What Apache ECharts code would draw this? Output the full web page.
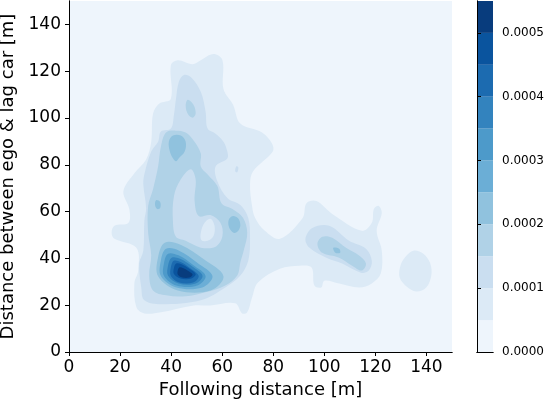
<!DOCTYPE html>
<html lang="en">
<head>
    <meta charset="UTF-8">
    <script src="https://cdn.jsdelivr.net/npm/echarts@6/dist/echarts.min.js"></script>
    <title>KDE following distance</title>
    <style>
        html, body { margin: 0; padding: 0; background: #fff; }
        #main { width: 546px; height: 402px; }
    </style>
</head>
<body>
<div id="main"></div>
<script type="text/javascript">
    // contour levels of the density and the colour of each band (Blues, 11 bands)
    var levelBounds = [0, 0.00005, 0.0001, 0.00015, 0.0002, 0.00025, 0.0003, 0.00035, 0.0004, 0.00045, 0.0005, 0.00055];
    var levelColors = ['#eef5fc', '#dceaf6', '#cadef0', '#b0d2e7', '#90c2de', '#6baed6',
                       '#4d9aca', '#3383be', '#1c6bb0', '#0a549e', '#083c7d'];
    var xTicks = [0, 20, 40, 60, 80, 100, 120, 140];
    var cbarTicks = [0, 0.0001, 0.0002, 0.0003, 0.0004, 0.0005];

    // contour outlines, [following distance, gap to lag car] in m
    var l1Main = [[56.6,127.3],[60.1,124.7],[60.5,112.4],[64.3,105.6],[67.1,97.6],[75.6,93.8],[79.5,89.1],[79.8,85.7],
        [72.1,77.2],[70.9,71.7],[71.7,62.4],[72.9,57.3],[76.7,51.8],[82.6,48.4],[91.5,57.3],[93.0,63.6],[96.9,64.5],
        [103.1,59.0],[114.7,51.8],[118.6,55.2],[119.4,61.1],[121.3,62.4],[122.5,59.4],[120.5,51.8],[122.5,43.3],
        [122.1,33.5],[118.6,29.3],[113.6,27.6],[105.8,29.3],[100.0,30.5],[98.8,27.6],[96.1,28.4],[95.0,36.1],
        [90.3,36.9],[82.6,35.6],[74.0,29.7],[71.7,23.3],[69.8,17.0],[67.8,16.5],[65.1,20.8],[55.4,19.9],[48.8,19.9],
        [36.0,17.0],[29.5,16.5],[26.4,19.1],[25.6,29.3],[27.1,34.8],[26.4,44.5],[17.8,48.4],[16.7,50.9],[17.8,53.9],
        [23.3,55.2],[23.6,61.1],[21.3,68.7],[25.6,76.4],[30.2,82.3],[32.2,89.9],[32.9,101.8],[35.3,106.1],
        [39.9,108.2],[39.9,122.6],[42.6,124.7],[48.4,123.0],[51.6,124.7]];
    var l1East = [[134.9,43.3],[138.8,42.0],[141.5,37.8],[141.9,32.7],[139.9,27.6],[136.0,25.9],[132.2,28.0],
        [129.5,31.8],[129.8,36.9],[131.8,40.7]];
    var l2Main = [[45.0,118.4],[47.7,117.5],[51.6,111.2],[53.5,102.7],[54.3,95.5],[57.4,93.3],[60.5,89.9],[62.0,85.7],
        [62.0,82.7],[57.4,79.3],[58.1,73.0],[62.0,65.8],[67.1,62.8],[70.2,57.3],[70.9,48.8],[70.2,39.0],[67.1,32.7],
        [61.2,27.6],[51.6,22.1],[36.0,20.4],[29.5,22.1],[28.3,27.6],[27.5,37.8],[29.1,43.3],[29.5,56.0],[30.2,61.5],
        [29.1,71.7],[29.5,75.9],[32.2,85.7],[34.9,89.9],[36.0,94.2],[39.9,95.5],[41.1,101.4],[41.9,108.2],[43.0,115.4]];
    var l2East = [[95.3,53.0],[101.9,53.9],[109.7,47.5],[116.3,44.1],[118.6,39.0],[117.4,34.8],[114.3,33.9],
        [107.0,37.8],[100.8,40.3],[94.2,44.5],[92.6,48.4]];
    var l2Dot = [[65.5,79.3],[66.3,78.9],[65.9,76.8],[65.1,77.2]];
    var l3Main = [[38.0,93.8],[41.9,94.6],[45.7,93.8],[48.8,90.4],[51.6,84.9],[51.6,79.3],[54.3,75.9],[58.1,70.9],
        [59.7,63.6],[64.0,61.1],[68.2,57.3],[69.8,50.9],[68.6,44.1],[67.1,38.2],[65.9,32.7],[61.2,28.4],[53.5,25.5],
        [45.7,23.8],[38.0,24.2],[32.9,26.3],[31.4,32.7],[32.2,41.2],[31.0,50.9],[31.0,62.4],[32.9,69.6],[34.9,79.3],
        [36.0,87.8]];
    var l3Top = [[46.5,107.8],[48.8,105.6],[49.6,101.8],[48.4,100.1],[46.5,101.8],[45.7,105.2]];
    var l3East = [[99.2,49.2],[103.1,48.8],[108.5,44.5],[113.6,41.2],[116.3,37.8],[114.7,34.8],[110.9,36.9],
        [105.8,40.3],[99.2,42.4],[97.3,46.2]];
    var l2Pocket = [[47.7,78.1],[49.6,73.8],[49.2,64.5],[50.8,58.1],[55.4,58.5],[59.3,55.2],[60.1,49.6],[57.4,45.0],
        [51.6,44.6],[45.7,47.5],[41.9,49.2],[40.7,56.0],[41.1,66.6],[43.8,73.8]];
    var l1Hole = [[55.4,56.9],[57.0,53.9],[56.6,49.6],[54.3,47.5],[51.9,47.8],[51.6,50.9],[53.1,55.2]];
    var l4Top = [[40.7,92.5],[43.8,92.5],[45.7,89.9],[45.3,85.7],[43.0,82.8],[41.9,81.5],[40.7,82.8],[39.5,85.7],[39.1,89.9]];
    var l4Right = [[64.3,58.1],[66.3,57.0],[67.1,54.3],[66.3,51.8],[64.7,50.9],[63.2,52.2],[62.4,54.7],[62.8,57.0]];
    var l4LeftDot = [[34.1,64.9],[35.7,64.1],[35.7,61.5],[34.5,61.1],[33.7,62.8]];
    var l4EastDot = [[103.5,44.5],[105.8,44.1],[106.2,42.4],[104.3,42.4]];
    var l4Peak = [[37.5,46.7],[43.9,45.7],[52.8,39.6],[60.5,32.4],[55.4,26.3],[42.6,26.3],[34.9,32.4],[34.9,40.6]];
    var l5Peak = [[38.0,44.1],[43.1,43.3],[50.1,38.3],[56.2,32.5],[52.2,27.6],[42.1,27.6],[36.0,32.5],[36.0,39.2]];
    var l6Peak = [[38.8,42.0],[42.9,41.3],[48.6,37.2],[53.5,32.5],[50.2,28.4],[42.1,28.4],[37.2,32.5],[37.2,37.9]];
    var l7Peak = [[40.2,40.3],[43.5,39.8],[48.3,36.5],[52.3,32.6],[49.6,29.3],[42.9,29.3],[38.8,32.6],[38.8,37.0]];
    var l8Peak = [[41.0,39.0],[43.7,38.5],[47.5,35.8],[50.8,32.5],[48.6,29.7],[43.2,29.7],[39.9,32.5],[39.9,36.2]];
    var l9Peak = [[42.0,37.8],[44.1,37.5],[47.1,35.6],[49.6,33.3],[47.9,31.4],[43.7,31.4],[41.1,33.3],[41.1,35.9]];
    var l10Peak = [[43.2,36.1],[44.6,35.9],[46.7,34.6],[48.4,33.1],[47.2,31.8],[44.3,31.8],[42.6,33.1],[42.6,34.8]];

    // draw order: [band index, outline]
    var contours = [
        [1, l1Main], [1, l1East], [2, l2Main], [2, l2East], [2, l2Dot],
        [3, l3Main], [3, l3Top], [3, l3East], [2, l2Pocket], [1, l1Hole],
        [4, l4Top], [4, l4Right], [4, l4LeftDot], [4, l4EastDot], [4, l4Peak],
        [5, l5Peak], [6, l6Peak], [7, l7Peak], [8, l8Peak], [9, l9Peak], [10, l10Peak]
    ];

    var FONT = 'DejaVu Sans';
    var chart = echarts.init(document.getElementById('main'), null, {renderer: 'canvas'});

    var boxLine = {show: true, lineStyle: {color: '#000', width: 1}};
    var hidden = {show: false};

    var option = {
        animation: false,
        backgroundColor: '#fff',
        grid: [
            {left: 69, right: 94, top: 1, bottom: 50, show: true, backgroundColor: levelColors[0], borderWidth: 0,
                containLabel: false, outerBoundsMode: 'none'},
            {left: 477, top: 1, width: 16, height: 351, containLabel: false, outerBoundsMode: 'none'}
        ],
        xAxis: [
            {
                type: 'value', gridIndex: 0, min: 0, max: 150, interval: 20, z: 10,
                name: 'Following distance [m]', nameLocation: 'middle', nameGap: 28,
                nameTextStyle: {fontFamily: FONT, fontSize: 18, color: '#000'},
                axisLine: boxLine,
                axisTick: {show: true, length: 4, lineStyle: {color: '#000'},
                    customValues: xTicks},
                axisLabel: {fontFamily: FONT, fontSize: 17, color: '#000', margin: 7,
                    customValues: xTicks},
                splitLine: hidden
            },
            {type: 'value', gridIndex: 0, position: 'top', min: 0, max: 150, z: 10,
                axisLine: boxLine, axisTick: hidden, axisLabel: hidden, splitLine: hidden},
            {type: 'value', gridIndex: 1, min: 0, max: 1, z: 10,
                axisLine: boxLine, axisTick: hidden, axisLabel: hidden, splitLine: hidden},
            {type: 'value', gridIndex: 1, position: 'top', min: 0, max: 1, z: 10,
                axisLine: boxLine, axisTick: hidden, axisLabel: hidden, splitLine: hidden}
        ],
        yAxis: [
            {
                type: 'value', gridIndex: 0, min: 0, max: 150, interval: 20, z: 10,
                name: 'Distance between ego & lag car [m]', nameLocation: 'middle', nameGap: 42,
                nameTextStyle: {fontFamily: FONT, fontSize: 18, color: '#000'},
                axisLine: boxLine,
                axisTick: {show: true, length: 4, lineStyle: {color: '#000'},
                    customValues: xTicks},
                axisLabel: {fontFamily: FONT, fontSize: 17, color: '#000', margin: 8,
                    customValues: xTicks},
                splitLine: hidden
            },
            {type: 'value', gridIndex: 0, position: 'right', min: 0, max: 150, z: 10,
                axisLine: boxLine, axisTick: hidden, axisLabel: hidden, splitLine: hidden},
            {type: 'value', gridIndex: 1, position: 'left', min: 0, max: 0.00055, z: 10,
                axisLine: boxLine, axisTick: hidden, axisLabel: hidden, splitLine: hidden},
            {
                type: 'value', gridIndex: 1, position: 'right', min: 0, max: 0.00055, z: 10,
                axisLine: boxLine,
                axisTick: {show: true, length: 4, lineStyle: {color: '#000'}, customValues: cbarTicks},
                axisLabel: {fontFamily: FONT, fontSize: 12, color: '#000', margin: 9,
                    customValues: cbarTicks,
                    formatter: function (v) { return v.toFixed(4); }},
                splitLine: hidden
            }
        ],
        series: [
            {
                type: 'custom',
                coordinateSystem: 'cartesian2d',
                xAxisIndex: 0, yAxisIndex: 0,
                silent: true,
                data: contours.map(function (c, i) { return [c[1][0][0], c[1][0][1], i]; }),
                renderItem: function (params, api) {
                    var c = contours[params.dataIndex];
                    var pts = c[1].map(function (p) { return api.coord(p); });
                    return {
                        type: 'polygon',
                        shape: {points: pts, smooth: 0.35},
                        style: {fill: levelColors[c[0]], stroke: null}
                    };
                }
            },
            {
                type: 'custom',
                coordinateSystem: 'cartesian2d',
                xAxisIndex: 2, yAxisIndex: 3,
                silent: true,
                data: levelColors.map(function (col, i) { return [0, levelBounds[i], levelBounds[i + 1], i]; }),
                renderItem: function (params, api) {
                    var lo = api.coord([0, api.value(1)]);
                    var hi = api.coord([1, api.value(2)]);
                    return {
                        type: 'rect',
                        shape: {x: lo[0], y: hi[1], width: hi[0] - lo[0], height: lo[1] - hi[1]},
                        style: {fill: levelColors[api.value(3)]}
                    };
                }
            }
        ]
    };
    chart.setOption(option);
</script>
</body>
</html>
